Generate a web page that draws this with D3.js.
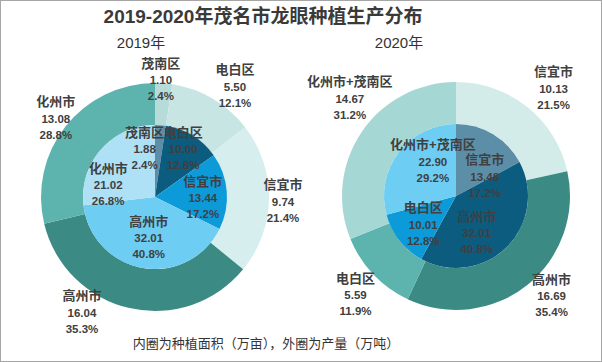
<!DOCTYPE html>
<html>
<head>
<meta charset="utf-8">
<script src="https://cdn.jsdelivr.net/npm/d3@7"></script>
<style>
  body { margin: 0; background: #fff; }
  svg { display: block; font-family: "Liberation Sans", "Noto Sans CJK SC", sans-serif; }
</style>
</head>
<body>
<svg id="chart" width="602" height="362"></svg>
<script>
// data (order = clockwise from 12 o'clock)
var cats2019 = ["茂南区", "电白区", "信宜市", "高州市", "化州市"];
var area2019 = [1.88, 10.00, 13.44, 32.01, 21.02];     // inner ring, 万亩
var areaPct2019 = ["2.4%", "12.8%", "17.2%", "40.8%", "26.8%"];
var output2019 = [1.10, 5.50, 9.74, 16.04, 13.08];     // outer ring, 万吨
var outputPct2019 = ["2.4%", "12.1%", "21.4%", "35.3%", "28.8%"];

var cats2020 = ["信宜市", "高州市", "电白区", "化州市+茂南区"];
var area2020 = [13.48, 32.01, 10.01, 22.90];
var areaPct2020 = ["17.2%", "40.8%", "12.8%", "29.2%"];
var output2020 = [10.13, 16.69, 5.59, 14.67];
var outputPct2020 = ["21.5%", "35.4%", "11.9%", "31.2%"];

// colours per slice
var innerColors2019 = ["#5d8ea8", "#0b5c7e", "#0c9bd8", "#6dcdf2", "#aee1f6"];
var outerColors2019 = ["#b6dbd8", "#c6e5e3", "#d6eeed", "#3b8a83", "#5db4ae"];
var innerColors2020 = ["#5d8ea8", "#0b5c7e", "#0c9bd8", "#6dcdf2"];
var outerColors2020 = ["#d3ecea", "#3b8a83", "#5db4ae", "#a5d8d4"];

// label nudges from the label-radius centroid
var innerNudge2019 = [[-14, 0], [3, -7], [0, 5], [2, -6], [-11, 20]];
var outerNudge2019 = [[-4, 13], [14, 2], [-2, 3], [-44, -11], [3, 2]];
var innerNudge2020 = [[4, 22], [-13, 3], [5, -1], [15, -5]];
var outerNudge2020 = [[10, 2], [8, -9], [1, 3], [10, -19]];

var svg = d3.select("#chart");
var rInner = 72, rOuter = 114;
var fmt = d3.format(".2f");

// frame
svg.append("rect")
  .attr("x", 0.5).attr("y", 0.5)
  .attr("width", 601).attr("height", 361)
  .attr("fill", "#fff")
  .attr("stroke", "#a6a6a6");

// title
svg.append("text")
  .attr("x", 263).attr("y", 16)
  .attr("text-anchor", "middle")
  .attr("dominant-baseline", "central")
  .style("font-size", "19px")
  .style("font-weight", "bold")
  .attr("fill", "#3a3a3a")
  .text("2019-2020年茂名市龙眼种植生产分布");

function drawDonut(cx, cy, year, yearX, cats, inner, innerPct, outer, outerPct,
                   innerColors, outerColors, innerNudge, outerNudge, outerLabelR) {
  var g = svg.append("g").attr("transform", "translate(" + cx + "," + cy + ")");
  var pie = d3.pie().sort(null).value(function(d) { return d; });

  var arcIn = d3.arc().innerRadius(0).outerRadius(rInner);
  var arcOut = d3.arc().innerRadius(rInner).outerRadius(rOuter);
  var labIn = d3.arc().innerRadius(48).outerRadius(48);
  var labOut = d3.arc().innerRadius(outerLabelR).outerRadius(outerLabelR);

  var outArcs = pie(outer);
  var inArcs = pie(inner);

  g.selectAll(".outer")
    .data(outArcs)
    .enter()
    .append("path")
      .attr("d", arcOut)
      .attr("fill", function(d, i) { return outerColors[i]; });

  g.selectAll(".inner")
    .data(inArcs)
    .enter()
    .append("path")
      .attr("d", arcIn)
      .attr("fill", function(d, i) { return innerColors[i]; });

  function labels(arcs, labArc, nudge, pct) {
    var lg = g.append("g").selectAll("g")
      .data(arcs)
      .enter()
      .append("g")
        .attr("transform", function(d, i) {
          var c = labArc.centroid(d);
          return "translate(" + (c[0] + nudge[i][0]) + "," + (c[1] + nudge[i][1]) + ")";
        });
    lg.append("text")
      .attr("y", -17)
      .attr("text-anchor", "middle")
      .attr("dominant-baseline", "central")
      .style("font-size", "13px")
      .style("font-weight", "bold")
      .attr("fill", "#404040")
      .text(function(d, i) { return cats[i]; });
    lg.append("text")
      .attr("y", 0)
      .attr("text-anchor", "middle")
      .attr("dominant-baseline", "central")
      .style("font-size", "11.5px")
      .style("font-weight", "bold")
      .attr("fill", "#404040")
      .text(function(d) { return fmt(d.data); });
    lg.append("text")
      .attr("y", 16)
      .attr("text-anchor", "middle")
      .attr("dominant-baseline", "central")
      .style("font-size", "11.5px")
      .style("font-weight", "bold")
      .attr("fill", "#404040")
      .text(function(d, i) { return pct[i]; });
  }

  labels(outArcs, labOut, outerNudge, outerPct);
  labels(inArcs, labIn, innerNudge, innerPct);

  // year heading
  svg.append("text")
    .attr("x", yearX).attr("y", 42)
    .attr("text-anchor", "middle")
    .attr("dominant-baseline", "central")
    .style("font-size", "15px")
    .attr("fill", "#333")
    .text(year);
}

drawDonut(155, 197, "2019年", 141, cats2019, area2019, areaPct2019, output2019, outputPct2019,
  innerColors2019, outerColors2019, innerNudge2019, outerNudge2019, 130);
drawDonut(456, 196, "2020年", 399, cats2020, area2020, areaPct2020, output2020, outputPct2020,
  innerColors2020, outerColors2020, innerNudge2020, outerNudge2020, 140);

// footnote
svg.append("text")
  .attr("x", 266).attr("y", 342)
  .attr("text-anchor", "middle")
  .attr("dominant-baseline", "central")
  .style("font-family", "'Noto Sans CJK SC', sans-serif")
  .style("font-size", "13px")
  .attr("fill", "#333")
  .text("内圈为种植面积（万亩），外圈为产量（万吨）");
</script>
</body>
</html>
